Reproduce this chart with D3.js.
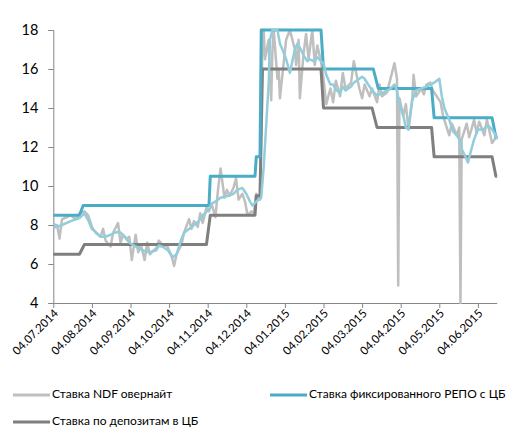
<!DOCTYPE html>
<html><head><meta charset="utf-8">
<script src="https://cdn.jsdelivr.net/npm/d3@7"></script>
<style>
body{margin:0;background:#fff;}
svg{display:block;font-family:Lato,"Open Sans",sans-serif;}
</style></head>
<body><svg id="c" width="515" height="429"></svg>
<script>
// ---- data ----
const tickLabels = ["04.07.2014","04.08.2014","04.09.2014","04.10.2014","04.11.2014","04.12.2014",
  "04.01.2015","04.02.2015","04.03.2015","04.04.2015","04.05.2015","04.06.2015"];
const lastDate = "19.06.2015";
const yTicks = [4,6,8,10,12,14,16,18];

const ndfOvernight = [
["04.07.2014",7.8],["07.07.2014",8.0],["09.07.2014",7.3],["11.07.2014",8.3],["15.07.2014",8.4],["18.07.2014",8.5],
["22.07.2014",8.3],["25.07.2014",8.6],["29.07.2014",8.7],["01.08.2014",8.5],["04.08.2014",7.9],["07.08.2014",7.6],
["11.08.2014",7.4],["13.08.2014",7.8],["15.08.2014",7.2],["19.08.2014",6.9],["21.08.2014",7.6],["25.08.2014",8.1],
["27.08.2014",7.1],["29.08.2014",7.5],["01.09.2014",7.3],["03.09.2014",7.4],["05.09.2014",6.2],["08.09.2014",7.5],
["10.09.2014",6.6],["12.09.2014",7.0],["15.09.2014",6.2],["17.09.2014",7.1],["19.09.2014",6.5],["22.09.2014",6.7],
["24.09.2014",6.8],["26.09.2014",7.2],["30.09.2014",6.9],["02.10.2014",7.0],["06.10.2014",6.4],["08.10.2014",5.9],
["10.10.2014",6.5],["14.10.2014",7.0],["16.10.2014",7.6],["20.10.2014",8.3],["22.10.2014",7.8],["24.10.2014",8.2],
["27.10.2014",7.9],["29.10.2014",8.6],["31.10.2014",8.1],["03.11.2014",8.9],["05.11.2014",8.7],["07.11.2014",9.1],
["10.11.2014",8.4],["12.11.2014",9.8],["14.11.2014",10.9],["17.11.2014",9.4],["19.11.2014",9.8],["21.11.2014",9.5],
["24.11.2014",9.9],["26.11.2014",10.4],["28.11.2014",9.3],["01.12.2014",9.6],["03.12.2014",9.2],["05.12.2014",8.5],
["08.12.2014",8.7],["10.12.2014",8.6],["12.12.2014",9.6],["15.12.2014",9.3],["16.12.2014",13.0],["17.12.2014",18.0],
["18.12.2014",18.0],["19.12.2014",16.5],["22.12.2014",17.5],["23.12.2014",15.5],["24.12.2014",14.4],["25.12.2014",17.0],
["26.12.2014",18.0],["29.12.2014",15.5],["30.12.2014",16.0],["31.12.2014",14.5],["05.01.2015",17.5],["08.01.2015",18.0],
["12.01.2015",17.0],["13.01.2015",16.2],["15.01.2015",17.5],["16.01.2015",14.5],["19.01.2015",16.8],["21.01.2015",17.8],
["23.01.2015",16.5],["26.01.2015",18.0],["28.01.2015",16.2],["30.01.2015",17.2],["02.02.2015",16.4],["04.02.2015",15.5],
["06.02.2015",14.2],["09.02.2015",15.0],["11.02.2015",14.3],["13.02.2015",15.4],["16.02.2015",14.6],["18.02.2015",15.8],
["20.02.2015",15.0],["24.02.2015",15.3],["26.02.2015",16.4],["02.03.2015",15.0],["04.03.2015",14.5],["06.03.2015",15.2],
["10.03.2015",14.6],["12.03.2015",15.0],["16.03.2015",14.3],["18.03.2015",15.2],["20.03.2015",14.6],["24.03.2015",14.8],
["26.03.2015",15.3],["30.03.2015",16.3],["01.04.2015",15.5],["02.04.2015",4.9],["03.04.2015",14.5],["06.04.2015",13.6],
["08.04.2015",14.2],["10.04.2015",12.9],["13.04.2015",14.5],["14.04.2015",15.7],["16.04.2015",14.6],["20.04.2015",15.0],
["22.04.2015",14.7],["24.04.2015",15.2],["27.04.2015",15.3],["29.04.2015",14.9],["05.05.2015",14.3],["07.05.2015",13.6],
["12.05.2015",12.6],["14.05.2015",13.2],["18.05.2015",12.6],["20.05.2015",13.0],["21.05.2015",4.0],["22.05.2015",12.4],
["26.05.2015",13.2],["28.05.2015",12.5],["01.06.2015",13.4],["03.06.2015",12.7],["05.06.2015",13.3],["09.06.2015",12.6],
["11.06.2015",13.4],["15.06.2015",12.2],["17.06.2015",12.4],["19.06.2015",12.6]
];

const ndfAverage = [
["04.07.2014",8.1],["07.07.2014",7.9],["11.07.2014",8.0],["18.07.2014",8.2],["25.07.2014",8.35],["29.07.2014",8.6],
["01.08.2014",8.25],["04.08.2014",7.8],["07.08.2014",7.65],["11.08.2014",7.4],["15.08.2014",7.4],["19.08.2014",7.5],
["22.08.2014",7.6],["26.08.2014",7.65],["28.08.2014",7.55],["03.09.2014",7.1],["08.09.2014",6.9],["12.09.2014",6.75],
["16.09.2014",6.65],["19.09.2014",6.6],["24.09.2014",6.7],["26.09.2014",6.95],["30.09.2014",6.85],["03.10.2014",6.7],
["07.10.2014",6.35],["10.10.2014",6.5],["14.10.2014",7.3],["16.10.2014",7.6],["20.10.2014",7.8],["24.10.2014",8.0],
["28.10.2014",8.2],["31.10.2014",8.5],["05.11.2014",8.8],["07.11.2014",9.1],["10.11.2014",9.2],["14.11.2014",9.4],
["20.11.2014",9.5],["24.11.2014",9.6],["27.11.2014",9.8],["01.12.2014",9.9],["04.12.2014",9.6],["07.12.2014",9.2],
["09.12.2014",9.0],["12.12.2014",9.2],["16.12.2014",9.4],["18.12.2014",11.0],["22.12.2014",15.3],["23.12.2014",17.5],
["25.12.2014",18.0],["29.12.2014",18.0],["31.12.2014",17.3],["02.01.2015",17.0],["05.01.2015",16.5],["08.01.2015",15.8],
["12.01.2015",17.0],["14.01.2015",17.3],["16.01.2015",17.1],["19.01.2015",16.7],["22.01.2015",16.4],["24.01.2015",16.5],
["27.01.2015",16.4],["30.01.2015",16.6],["02.02.2015",16.4],["04.02.2015",16.3],["06.02.2015",15.7],["09.02.2015",15.2],
["11.02.2015",15.2],["13.02.2015",14.95],["16.02.2015",14.75],["18.02.2015",15.1],["20.02.2015",14.9],["24.02.2015",15.1],
["26.02.2015",15.3],["02.03.2015",15.5],["04.03.2015",15.6],["06.03.2015",15.5],["10.03.2015",15.1],["12.03.2015",14.9],
["16.03.2015",14.65],["18.03.2015",14.7],["20.03.2015",14.75],["24.03.2015",14.9],["26.03.2015",14.95],["30.03.2015",15.2],
["01.04.2015",14.9],["03.04.2015",14.2],["06.04.2015",13.6],["08.04.2015",13.0],["10.04.2015",12.9],["13.04.2015",14.4],
["16.04.2015",14.9],["20.04.2015",15.0],["24.04.2015",15.1],["27.04.2015",15.2],["30.04.2015",15.3],["04.05.2015",15.5],
["06.05.2015",14.6],["08.05.2015",14.0],["12.05.2015",13.4],["14.05.2015",13.0],["15.05.2015",12.8],["18.05.2015",12.6],
["20.05.2015",12.4],["22.05.2015",11.9],["25.05.2015",11.5],["27.05.2015",11.2],["29.05.2015",11.7],["01.06.2015",12.4],
["04.06.2015",12.9],["08.06.2015",12.9],["10.06.2015",13.0],["12.06.2015",13.1],["15.06.2015",12.9],["17.06.2015",12.7],
["19.06.2015",12.4]
];

const repoRate = [
["04.07.2014",8.5],["25.07.2014",8.5],["28.07.2014",9],["05.11.2014",9],["06.11.2014",10.5],["11.12.2014",10.5],
["12.12.2014",11.5],["15.12.2014",11.5],["16.12.2014",18],["02.02.2015",18],["04.02.2015",16],["13.03.2015",16],
["17.03.2015",15],["28.04.2015",15],["30.04.2015",13.5],["15.06.2015",13.5],["18.06.2015",12.5],["19.06.2015",12.5]
];

const depositRate = [
["04.07.2014",6.5],["25.07.2014",6.5],["29.07.2014",7],["03.11.2014",7],["06.11.2014",8.5],["11.12.2014",8.5],
["12.12.2014",9.5],["15.12.2014",9.5],["17.12.2014",16],["02.02.2015",16],["04.02.2015",14],["12.03.2015",14],
["16.03.2015",13],["28.04.2015",13],["30.04.2015",11.5],["15.06.2015",11.5],["18.06.2015",10.5],["19.06.2015",10.5]
];

const legendLabels = ["Ставка NDF овернайт","Ставка фиксированного РЕПО с ЦБ","Ставка по депозитам в ЦБ"];

// ---- drawing ----
(function(){
const parse = d3.timeParse("%d.%m.%Y");
const fmt = d3.timeFormat("%d.%m.%Y");
const svg = d3.select("#c");
const pLeft = 53.3, pRight = 497.2, pTop = 30, pBottom = 303;

const tickDates = tickLabels.map(parse);
const endD = parse(lastDate);
const lastT = tickDates[tickDates.length-1];
const frac = (endD - lastT) / (30*864e5);
const monthW = (pRight - pLeft) / (tickDates.length - 1 + frac);
const x = d3.scaleTime()
  .domain([...tickDates, endD])
  .range([...tickDates.map((d,i)=>pLeft + i*monthW), pRight]);
const y = d3.scaleLinear().domain([4,18]).range([pBottom, pTop]);

const axisColor = "#868686";

// y axis
const gy = svg.append("g").attr("transform",`translate(${pLeft},0)`)
  .call(d3.axisLeft(y).tickValues(yTicks).tickSize(5).tickPadding(10).tickFormat(d3.format("d")));
gy.select(".domain").attr("stroke",axisColor);
gy.selectAll(".tick line").attr("stroke",axisColor);
gy.selectAll("text").attr("font-size","14.5px").attr("fill","#000").attr("font-family","Lato,'Open Sans',sans-serif");

// x axis
const gx = svg.append("g").attr("transform",`translate(0,${pBottom})`)
  .call(d3.axisBottom(x).tickValues(tickDates).tickSize(5).tickSizeOuter(0).tickFormat(fmt));
gx.select(".domain").attr("stroke",axisColor).attr("d",`M${pLeft},0.5H${pRight}`);
gx.selectAll(".tick line").attr("stroke",axisColor);
gx.selectAll("text")
  .attr("font-size","11.5px").attr("fill","#000").attr("font-family","Lato,'Open Sans',sans-serif")
  .attr("text-anchor","end").attr("dy",null).attr("y",0)
  .attr("transform","translate(3,9) rotate(-45)")
  .attr("dominant-baseline","middle");

const line = d3.line().x(d=>x(parse(d[0]))).y(d=>y(d[1]));

const series = [
  {data: ndfOvernight, color:"#BFBFBF", w:2.5},
  {data: depositRate, color:"#7F7F7F", w:3},
  {data: repoRate, color:"#4BACC6", w:3},
  {data: ndfAverage, color:"#92CDDC", w:2.5}
];
svg.append("g").selectAll("path").data(series).join("path")
  .attr("d", s=>line(s.data)).attr("fill","none")
  .attr("stroke", s=>s.color).attr("stroke-width", s=>s.w)
  .attr("stroke-linejoin","round");

// legend
const legend = [
  {label: legendLabels[0], color:"#BFBFBF", lx:13, ly:395},
  {label: legendLabels[1], color:"#4BACC6", lx:270, ly:395},
  {label: legendLabels[2], color:"#7F7F7F", lx:13, ly:422}
];
const lg = svg.append("g").selectAll("g").data(legend).join("g")
  .attr("transform", d=>`translate(${d.lx},${d.ly})`);
lg.append("line").attr("x1",0).attr("x2",37).attr("y1",0).attr("y2",0)
  .attr("stroke", d=>d.color).attr("stroke-width",3);
lg.append("text").attr("x",39).attr("y",0).attr("dominant-baseline","middle")
  .attr("font-size","12px").attr("fill","#000").text(d=>d.label);
})();
</script></body></html>
